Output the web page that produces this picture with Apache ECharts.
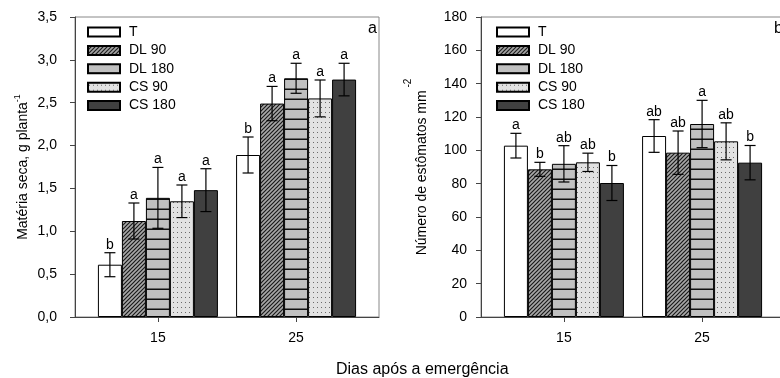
<!DOCTYPE html>
<html><head><meta charset="utf-8">
<script src="https://cdn.jsdelivr.net/npm/echarts@6/dist/echarts.min.js"></script>
<style>html,body{margin:0;padding:0;background:#fff}#c{width:780px;height:378px}</style>
</head><body><div id="c"></div>
<script>
// ---- data ----
const categories = [15, 25];                       // Dias após a emergência
const treatments = ['T', 'DL 90', 'DL 180', 'CS 90', 'CS 180'];

// (a) Matéria seca, g planta-1  — one row per treatment, [15, 25]
const dryMean = [[0.61, 1.89], [1.12, 2.49], [1.39, 2.785], [1.35, 2.55], [1.48, 2.77]];
const dryErr  = [[0.14, 0.21], [0.21, 0.20], [0.355, 0.175], [0.19, 0.215], [0.25, 0.19]];
const dryLetters = [['b', 'b'], ['a', 'a'], ['a', 'a'], ['a', 'a'], ['a', 'a']];

// (b) Número de estômatos mm-2
const stoMean = [[102.8, 108.6], [88.6, 98.6], [91.9, 115.8], [92.8, 105.4], [80.4, 92.6]];
const stoErr  = [[7.4, 9.8], [4.2, 13.0], [10.9, 14.2], [5.5, 11.1], [10.5, 10.3]];
const stoLetters = [['a', 'ab'], ['b', 'ab'], ['ab', 'a'], ['ab', 'ab'], ['b', 'b']];

const dryTicks = {min: 0, max: 3.5, interval: 0.5};
const stoTicks = {min: 0, max: 180, interval: 20};

// ---- styles ----
const FONT = 'Liberation Sans, Arial, sans-serif';
const BAR_W = 24;

function pattern(kind) {
  const c = document.createElement('canvas');
  const g = c.getContext('2d');
  if (kind === 'diag') {
    c.width = 4; c.height = 4;
    g.fillStyle = '#a8a8a8'; g.fillRect(0, 0, 4, 4);
    g.strokeStyle = '#1a1a1a'; g.lineWidth = 1.2;
    g.beginPath();
    g.moveTo(-1, 1); g.lineTo(1, -1);
    g.moveTo(0, 4); g.lineTo(4, 0);
    g.moveTo(3, 5); g.lineTo(5, 3);
    g.stroke();
  } else if (kind === 'hline') {
    c.width = 10; c.height = 10;
    g.fillStyle = '#c0c0c0'; g.fillRect(0, 0, 10, 10);
    g.fillStyle = '#111'; g.fillRect(0, 8.5, 10, 1.5);
  } else if (kind === 'dots') {
    c.width = 4; c.height = 5;
    g.fillStyle = '#e2e2e2'; g.fillRect(0, 0, 4, 5);
    g.fillStyle = '#6a6a6a'; g.fillRect(1, 2, 1, 1);
  }
  return {image: c, repeat: 'repeat'};
}
const fills = ['#ffffff', pattern('diag'), pattern('hline'), pattern('dots'), '#404040'];

const chart = echarts.init(document.getElementById('c'), null, {renderer: 'canvas'});

function xAxis(gi) {
  return {
    type: 'value', gridIndex: gi, min: 9, max: 31,
    axisLine: {show: true, onZero: false, lineStyle: {color: '#444', width: 1}},
    axisTick: {show: true, customValues: categories, length: 5, lineStyle: {color: '#444'}},
    axisLabel: {customValues: categories, margin: 14, fontSize: 14, color: '#000', fontFamily: FONT},
    splitLine: {show: false}
  };
}
function yAxis(gi, ticks, name, rich, gap, margin, fmt) {
  return {
    type: 'value', gridIndex: gi, min: ticks.min, max: ticks.max, interval: ticks.interval,
    axisLine: {show: true, lineStyle: {color: '#444', width: 1}},
    axisTick: {show: true, length: 5, lineStyle: {color: '#444'}},
    axisLabel: {margin: margin, fontSize: 14, color: '#000', fontFamily: FONT, formatter: fmt},
    splitLine: {show: false},
    name: name, nameLocation: 'middle', nameGap: gap,
    nameTextStyle: {rich: rich}
  };
}

const series = [];
function addChart(gi, mean, err, letters) {
  treatments.forEach((t, i) => {
    series.push({
      type: 'bar', name: t, xAxisIndex: gi, yAxisIndex: gi,
      data: categories.map((x, j) => [x, mean[i][j]]),
      barWidth: BAR_W, barGap: '0%',
      itemStyle: {color: fills[i], borderColor: '#000', borderWidth: 1},
      emphasis: {disabled: true}, silent: true
    });
  });
  treatments.forEach((t, i) => {
    series.push({
      type: 'custom', name: t + ' err', xAxisIndex: gi, yAxisIndex: gi, z: 5, silent: true,
      data: categories.map((x, j) => [x, mean[i][j] - err[i][j], mean[i][j] + err[i][j]]),
      renderItem: (params, api) => {
        const x = api.value(0);
        const lo = api.coord([x, api.value(1)]);
        const hi = api.coord([x, api.value(2)]);
        const cx = lo[0] + (i - 2) * BAR_W;
        const cap = 5.5;
        const ls = {stroke: '#000', lineWidth: 1.2};
        return {type: 'group', children: [
          {type: 'line', shape: {x1: cx, y1: lo[1], x2: cx, y2: hi[1]}, style: ls},
          {type: 'line', shape: {x1: cx - cap, y1: lo[1], x2: cx + cap, y2: lo[1]}, style: ls},
          {type: 'line', shape: {x1: cx - cap, y1: hi[1], x2: cx + cap, y2: hi[1]}, style: ls},
          {type: 'text', style: {text: letters[i][params.dataIndex], x: cx, y: hi[1] - 1,
            align: 'center', verticalAlign: 'bottom', fontSize: 14, fontFamily: FONT, fill: '#000'}}
        ]};
      }
    });
  });
}
addChart(0, dryMean, dryErr, dryLetters);
addChart(1, stoMean, stoErr, stoLetters);

const legendCommon = {
  orient: 'vertical', top: 25, padding: 0, itemWidth: 32, itemHeight: 9, itemGap: 4.4,
  icon: 'rect', data: treatments, selectedMode: false,
  textStyle: {fontSize: 14, color: '#000', fontFamily: FONT, padding: [0, 0, 0, 4]}
};

const gridCommon = {top: 17, height: 300, width: 304, show: true, borderColor: '#888', borderWidth: 1,
  outerBoundsMode: 'none', containLabel: false};

chart.setOption({
  animation: false,
  grid: [Object.assign({left: 75}, gridCommon), Object.assign({left: 481}, gridCommon)],
  xAxis: [xAxis(0), xAxis(1)],
  yAxis: [
    yAxis(0, dryTicks, '{m|Matéria seca, g planta}{s|-1}', {
      m: {fontSize: 14, lineHeight: 17, verticalAlign: 'bottom', fontFamily: FONT, color: '#000'},
      s: {fontSize: 9, lineHeight: 9, verticalAlign: 'top', fontFamily: FONT, color: '#000'}
    }, 45, 18, v => v.toFixed(1).replace('.', ',')),
    yAxis(1, stoTicks, '{m|Número de estômatos mm}{s| -2}', {
      m: {fontSize: 14, lineHeight: 26, verticalAlign: 'bottom', fontFamily: FONT, color: '#000'},
      s: {fontSize: 10, lineHeight: 10, verticalAlign: 'top', fontFamily: FONT, color: '#000'}
    }, 52, 14, v => String(v))
  ],
  legend: [Object.assign({left: 87}, legendCommon), Object.assign({left: 496}, legendCommon)],
  title: [
    {text: 'a', left: 368, top: 21, padding: 0, textStyle: {fontSize: 16, fontWeight: 'normal', color: '#000', fontFamily: FONT}},
    {text: 'b', left: 774, top: 21, padding: 0, textStyle: {fontSize: 16, fontWeight: 'normal', color: '#000', fontFamily: FONT}},
    {text: 'Dias após a emergência', left: 336, top: 362, padding: 0, textStyle: {fontSize: 16, fontWeight: 'normal', color: '#000', fontFamily: FONT}}
  ],
  series: series
});
</script></body></html>
